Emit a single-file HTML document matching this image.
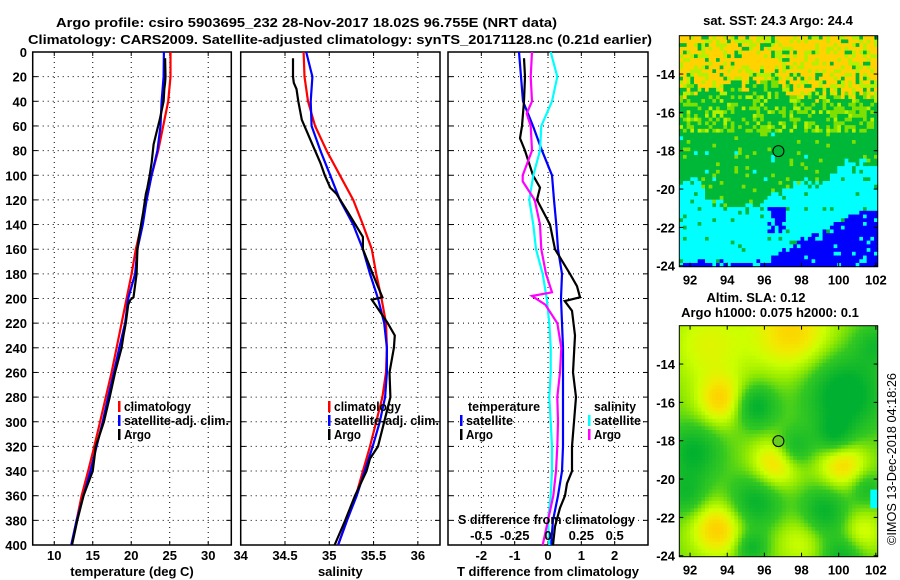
<!DOCTYPE html>
<html><head><meta charset="utf-8"><title>Argo profile</title>
<style>
html,body{margin:0;padding:0;background:#fff;}
svg{display:block;font-family:"Liberation Sans",sans-serif;}
.t{font-weight:bold;font-size:13px;fill:#000;}
</style></head>
<body>
<svg id="fig" width="900" height="580" viewBox="0 0 900 580" xmlns="http://www.w3.org/2000/svg">
<text class="t" x="56" y="27" font-size="14" textLength="501" lengthAdjust="spacingAndGlyphs">Argo profile: csiro 5903695_232 28-Nov-2017 18.02S 96.755E (NRT data)</text>
<text class="t" x="28" y="44" font-size="14" textLength="624" lengthAdjust="spacingAndGlyphs">Climatology: CARS2009. Satellite-adjusted climatology: synTS_20171128.nc (0.21d earlier)</text>
<text class="t" x="778" y="25" text-anchor="middle" font-size="13">sat. SST: 24.3 Argo: 24.4</text>
<text class="t" x="756" y="302" text-anchor="middle" font-size="13">Altim. SLA: 0.12</text>
<text class="t" x="770" y="317" text-anchor="middle" font-size="13">Argo h1000: 0.075 h2000: 0.1</text>
<text x="0" y="0" font-size="13" transform="translate(896,545) rotate(-90)" textLength="172" lengthAdjust="spacingAndGlyphs">©IMOS 13-Dec-2018 04:18:26</text>
<g id="layer"></g>
</svg>
<script>
// ---------- profile data ----------
const tDepth = [0,20,40,60,80,100,120,140,160,180,200,220,240,260,280,300,320,340,360,380,400];
const tClim = [25.1,25.1,24.8,24.15,23.5,22.65,22.0,21.35,20.6,20.05,19.4,18.75,18.1,17.45,16.7,15.95,15.2,14.4,13.55,12.9,12.25];
const tSat = [24.25,24.2,23.95,23.8,23.4,22.65,22.0,21.5,20.8,20.5,19.6,19.2,18.45,17.75,17.0,16.3,15.5,14.7,13.8,12.9,12.2];
const sClim = [34.71,34.72,34.76,34.84,34.97,35.12,35.27,35.38,35.48,35.53,35.59,35.64,35.65,35.64,35.6,35.53,35.46,35.38,35.3,35.2,35.1];
const sSat = [34.74,34.81,34.79,34.8,34.9,35.01,35.12,35.27,35.38,35.46,35.55,35.62,35.65,35.65,35.63,35.57,35.49,35.4,35.31,35.2,35.1];
const aDepth = [5,20,25,30,40,55,65,75,90,100,110,115,130,150,160,180,199,201,205,220,230,240,260,280,300,320,330,340,360,380,400];
const aTemp = [24.4,24.45,24.4,24.3,24.2,23.7,23.3,22.9,22.65,22.4,22.1,21.9,21.55,21.0,20.8,20.7,20.3,19.9,19.6,19.3,19.0,18.75,17.9,17.2,16.45,15.4,15.2,15.0,13.8,13.0,12.3];
const aSal = [34.59,34.59,34.6,34.63,34.65,34.69,34.75,34.81,34.9,34.95,35.01,35.08,35.21,35.38,35.38,35.49,35.6,35.48,35.52,35.66,35.74,35.73,35.68,35.69,35.62,35.55,35.46,35.42,35.29,35.18,35.06];
// difference panel
const dTSat = [-0.87,-0.81,-0.75,-0.45,-0.18,0.12,0.18,0.25,0.3,0.42,0.39,0.42,0.45,0.45,0.45,0.45,0.45,0.42,0.3,0.15,0.09];
const dADepth = [5,20,40,60,70,80,100,110,120,140,160,180,190,199,202,210,230,260,280,300,320,340,350,360,370,385,400];
const dTArgo = [-0.72,-0.69,-0.72,-0.78,-0.84,-0.69,-0.45,-0.24,-0.33,0.06,0.21,0.66,0.87,0.96,0.5,0.72,0.81,0.75,0.84,0.78,0.72,0.72,0.57,0.51,0.36,0.21,0.15];
const dSSat = [0.02,0.07,0.03,-0.05,-0.06,-0.11,-0.14,-0.11,-0.09,-0.04,-0.01,0.01,0.02,0.02,0.01,0.02,0.03,0.03,0.02,0.0,0.01];
const dSDepth = [0,20,40,50,60,80,100,105,120,140,160,180,195,198,205,220,240,260,280,300,320,340,360,380,400];
const dSArgo = [-0.12,-0.13,-0.12,-0.16,-0.13,-0.12,-0.19,-0.19,-0.1,-0.06,-0.05,-0.015,0.03,-0.12,-0.02,0.07,0.1,0.09,0.07,0.075,0.07,0.06,0.04,0.0,-0.04];
const depthTicks = [0,20,40,60,80,100,120,140,160,180,200,220,240,260,280,300,320,340,360,380,400];
const tTicks = [10,15,20,25,30];
const sTicks = [34,34.5,35,35.5,36];
const dTicks = [-2,-1,0,1,2];
const dsTicks = [-0.5,-0.25,0,0.25,0.5];
const dsTickLabels = ['-0.5','-0.25','0','0.25','0.5'];
// map axes
const lonTicks = [92,94,96,98,100,102];
const latTicks = [-14,-16,-18,-20,-22,-24];
const argoLon = 96.755, argoLat = -18.02;

const NS="http://www.w3.org/2000/svg";
const layer=document.getElementById('layer');
function mk(tag,attrs,parent){const e=document.createElementNS(NS,tag);for(const k in attrs)e.setAttribute(k,attrs[k]);(parent||layer).appendChild(e);return e;}
function lin(d0,d1,r0,r1){return v=>r0+(v-d0)*(r1-r0)/(d1-d0);}
const Y0=52,Y1=545;
const yD=lin(0,400,Y0,Y1);

const panels=[
 {name:'temperature',x0:32.7,x1:231.3,dom:[7.2,33],ticks:tTicks,labels:tTicks.map(String),title:'temperature (deg C)'},
 {name:'salinity',x0:240.7,x1:440,dom:[34,36.25],ticks:sTicks,labels:sTicks.map(String),title:'salinity'},
 {name:'difference',x0:448,x1:648,dom:[-3,3],ticks:dTicks,labels:dTicks.map(String),title:'T difference from climatology'}
];
panels.forEach((p,pi)=>{
  p.x=lin(p.dom[0],p.dom[1],p.x0,p.x1);
  const g=mk('g',{});
  
  
  p.ticks.forEach(t=>{const xx=p.x(t);
    const l=mk('line',{x1:xx,x2:xx,y1:Y0,y2:Y1,stroke:'#000','stroke-width':1,'stroke-dasharray':'1,4'},g);
    
    mk('line',{x1:xx,x2:xx,y1:Y0,y2:Y0+4,stroke:'#000'},g);
    mk('line',{x1:xx,x2:xx,y1:Y1,y2:Y1-4,stroke:'#000'},g);
  });
  p.labels.forEach((lb,i)=>{const tx=mk('text',{x:p.x(p.ticks[i]),y:560,'text-anchor':'middle',class:'t'},g);tx.textContent=lb;
    });
  depthTicks.forEach(d=>{const yy=yD(d);
    if(d>0&&d<400){const l=mk('line',{x1:p.x0,x2:p.x1,y1:yy,y2:yy,stroke:'#000','stroke-width':1,'stroke-dasharray':'1,4'},g);
      }
    mk('line',{x1:p.x0,x2:p.x0+5,y1:yy,y2:yy,stroke:'#000'},g);
    mk('line',{x1:p.x1,x2:p.x1-5,y1:yy,y2:yy,stroke:'#000'},g);
    if(pi===0){const tx=mk('text',{x:27,y:yy+5,'text-anchor':'end',class:'t'},g);tx.textContent=d;
      }
  });
  const r=mk('rect',{x:p.x0,y:Y0,width:p.x1-p.x0,height:Y1-Y0,fill:'none',stroke:'#000','stroke-width':1.5},g);
  
  const at=mk('text',{x:(p.x0+p.x1)/2,y:576,'text-anchor':'middle',class:'t'},g);at.textContent=p.title;
  
});
function series(xf,vals,depths,color,name){
  const pts=vals.map((v,i)=>xf(v).toFixed(1)+','+yD(depths[i]).toFixed(1)).join(' ');
  const pl=mk('polyline',{points:pts,fill:'none',stroke:color,'stroke-width':2.2,'stroke-linejoin':'miter'});
  
  
}
const P1=panels[0],P2=panels[1],P3=panels[2];
series(P1.x,tClim,tDepth,'#f00','temp-climatology-line');
series(P1.x,tSat,tDepth,'#00f','temp-satellite-line');
series(P1.x,aTemp,aDepth,'#000','temp-argo-line');
series(P2.x,sClim,tDepth,'#f00','sal-climatology-line');
series(P2.x,sSat,tDepth,'#00f','sal-satellite-line');
series(P2.x,aSal,aDepth,'#000','sal-argo-line');
const xS=lin(-0.75,0.75,P3.x0,P3.x1);
series(P3.x,dTSat,tDepth,'#00f','tdiff-satellite-line');
series(P3.x,dTArgo,dADepth,'#000','tdiff-argo-line');
series(xS,dSSat,tDepth,'#0ff','sdiff-satellite-line');
series(xS,dSArgo,dSDepth,'#f0f','sdiff-argo-line');
dsTicks.forEach((t,i)=>{const tx=mk('text',{x:xS(t),y:540,'text-anchor':'middle',class:'t'});tx.textContent=dsTickLabels[i];
  });
{const tx=mk('text',{x:458,y:524,class:'t',textLength:177,lengthAdjust:'spacingAndGlyphs'});tx.textContent='S difference from climatology';
 }
function legend(x,y,color,label,name,w){
  const g=mk('g',{});
  mk('rect',{x:x,y:y-10,width:2.5,height:11,fill:color},g);
  const tx=mk('text',{x:x+6,y:y,class:'t',textLength:w,lengthAdjust:'spacingAndGlyphs'},g);tx.textContent=label;
}
legend(118,411,'#f00','climatology','legend-climatology',67);
legend(118,425,'#00f','satellite-adj. clim.','legend-satellite-adj',105);
legend(118,439,'#000','Argo','legend-argo',27);
legend(328,411,'#f00','climatology','legend-climatology-sal',67);
legend(328,425,'#00f','satellite-adj. clim.','legend-satellite-adj-sal',105);
legend(328,439,'#000','Argo','legend-argo-sal',27);
{const tx=mk('text',{x:468,y:411,class:'t',textLength:72,lengthAdjust:'spacingAndGlyphs'});tx.textContent='temperature';}
legend(460,425,'#00f','satellite','legend-t-satellite',47);
legend(460,439,'#000','Argo','legend-t-argo',27);
{const tx=mk('text',{x:594,y:411,class:'t',textLength:42,lengthAdjust:'spacingAndGlyphs'});tx.textContent='salinity';}
legend(588,425,'#0ff','satellite','legend-s-satellite',47);
legend(588,439,'#f0f','Argo','legend-s-argo',27);

// ---------- maps ----------
const LON0=91.42,LON1=102.1,LAT0=-12.0,LAT1=-24.05;
function hash(i,j){let h=(i*374761393+j*668265263)^0x5bd1e995;h=(h^(h>>>13))*1274126177;h=h^(h>>>16);return ((h>>>0)%10000)/10000;}
const bLons=[91.4,92,92.5,93,94,95,96,96.5,97.5,98,99,99.5,100,101,102.2];
const cyanB=[-19.6,-19.6,-19.3,-20.7,-20.9,-20.9,-20.8,-20.2,-19.8,-19.5,-19.7,-19.4,-18.7,-18.5,-19.0];
const blueB=[-23.9,-23.8,-23.7,-23.9,-23.9,-23.9,-23.9,-23.4,-23.0,-22.7,-22.4,-22.3,-21.7,-21.2,-21.1];
const yelB=[-14.9,-14.9,-14.8,-14.8,-14.6,-14.5,-14.5,-14.5,-15.0,-15.3,-15.2,-15.0,-15.0,-15.0,-15.0];
function interp(xs,ys,x){for(let i=0;i<xs.length-1;i++){if(x<=xs[i+1])return ys[i]+(ys[i+1]-ys[i])*(x-xs[i])/(xs[i+1]-xs[i]);}return ys[ys.length-1];}
const bumps=[[97.5,-12.3,0.5,1.5],[93,-13,0.3,1.5],[93.7,-15.9,0.5,0.9],[96.6,-19.2,0.5,0.9],[100.2,-19.2,0.5,0.9],[93.5,-22.6,0.55,1.0],[101.2,-22.8,0.3,0.8],[98,-23.2,0.25,1.0],[95.5,-16.2,-0.5,0.8],[100.3,-15.6,-0.6,1.4],[92.2,-18.6,-0.45,1.0],[97.6,-18.4,-0.4,0.7],[99.8,-17.8,-0.4,0.7],[95.5,-21.2,-0.45,1.0],[99.2,-21.7,-0.45,0.9],[101.5,-20.5,-0.3,0.6],[91.8,-20.8,-0.35,0.8],[95.3,-23.6,-0.4,0.6],[100.2,-24,-0.4,0.8],[102,-13,-0.3,0.8]];
const cmapStops=[[0,[0,176,48]],[0.35,[51,200,34]],[0.55,[150,235,0]],[0.7,[204,255,0]],[0.85,[240,235,0]],[1,[255,208,0]]];
function cmap(v){v=Math.max(0,Math.min(1,v));for(let i=0;i<cmapStops.length-1;i++){const a=cmapStops[i],b=cmapStops[i+1];if(v<=b[0]){const f=(v-a[0])/(b[0]-a[0]);return 'rgb('+a[1].map((c,k)=>Math.round(c+(b[1][k]-c)*f)).join(',')+')';}}return 'rgb(255,208,0)';}
function drawMap(yTop,yBot,kind,name){
  const x0=679.3,x1=877.7;
  const g=mk('g',{});
  const mx=lin(LON0,LON1,x0,x1), my=lin(LAT0,LAT1,yTop,yBot);
  const nx=54, ny=62, cw=(x1-x0)/nx, ch=(yBot-yTop)/ny;
  for(let i=0;i<nx;i++)for(let j=0;j<ny;j++){
    const lon=LON0+(i+0.5)*(LON1-LON0)/nx, lat=LAT0+(j+0.5)*(LAT1-LAT0)/ny;
    let c;
    const h=hash(i,j);
    if(kind==='sst'){
      const cb=interp(bLons,cyanB,lon)+(hash(i+7,j)-0.5)*0.5, bb=interp(bLons,blueB,lon)+(hash(i,j+9)-0.5)*0.5, yb=interp(bLons,yelB,lon)+(hash(i+3,j+5)-0.5)*0.8;
      const blob=(lon>96.2&&lon<97.1&&lat<-20.9&&lat>-22.3&&h<0.75);
      if(lat<bb||blob) c=(h<0.06?'#0ff':'#0000ff');
      else if(lat<cb) c=(h<0.05?'#00b838':'#00ffff');
      else if(lat>yb){ if(h<0.015&&lat>-13.2&&lon>94&&lon<97)c='#f00'; else if(h<0.6)c='#ffd200'; else if(h<0.88)c='#b4f000'; else c='#00b838';}
      else if(lat>-17){c=h<0.3?'#7ee000':(h<0.4?'#b4f000':'#00b838');}
      else c=h<0.05?'#7ee000':(h<0.07?'#0ff':'#00b838');
    } else {
      let v=0.47;bumps.forEach(b=>{const d2=(lon-b[0])**2+(lat-b[1])**2;v+=b[2]*Math.exp(-d2/(2*b[3]*b[3]));});
      c=cmap(v);
      if(lon>101.8&&lat<-20.6&&lat>-21.6)c='#0ff';
    }
    mk('rect',{x:(x0+i*cw).toFixed(2),y:(yTop+j*ch).toFixed(2),width:(cw+0.4).toFixed(2),height:(ch+0.4).toFixed(2),fill:c},g);
  }
  mk('rect',{x:x0,y:yTop,width:x1-x0,height:yBot-yTop,fill:'none',stroke:'#000','stroke-width':1},g);
  lonTicks.forEach(t=>{const xx=mx(t);mk('line',{x1:xx,x2:xx,y1:yTop,y2:yTop+4,stroke:'#000'},g);mk('line',{x1:xx,x2:xx,y1:yBot,y2:yBot-4,stroke:'#000'},g);
    const tx=mk('text',{x:xx,y:yBot+18,'text-anchor':'middle',class:'t'},g);tx.textContent=t;
    });
  latTicks.forEach(t=>{const yy=my(t);mk('line',{x1:x0,x2:x0+4,y1:yy,y2:yy,stroke:'#000'},g);mk('line',{x1:x1,x2:x1-4,y1:yy,y2:yy,stroke:'#000'},g);
    const tx=mk('text',{x:675,y:yy+5,'text-anchor':'end',class:'t'},g);tx.textContent=t;
    });
  const cc=mk('circle',{cx:mx(argoLon),cy:my(argoLat),r:5.5,fill:kind==='sst'?'none':'#66cc22',stroke:'#000','stroke-width':1},g);
  
}
drawMap(35.7,266.7,'sst','sst-map');
drawMap(325.7,556.7,'sla','sla-map');
</script>
</body></html>
